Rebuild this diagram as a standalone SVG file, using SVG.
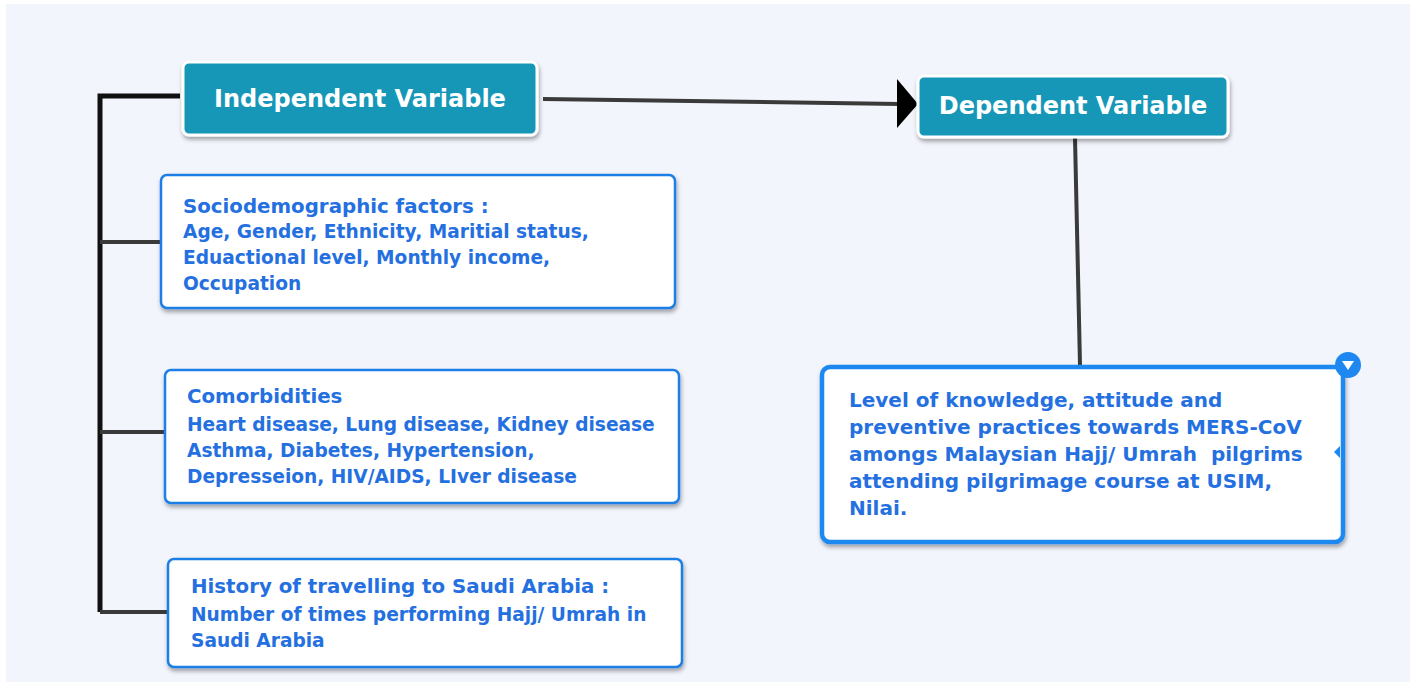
<svg xmlns="http://www.w3.org/2000/svg" width="1415" height="686" viewBox="0 0 1415 686">
<defs>
<style>
.head{fill:#1597b8;stroke:#ffffff;stroke-width:3}
.headtxt{font-family:"DejaVu Sans",Verdana,sans-serif;font-weight:bold;fill:#ffffff;font-size:24px;text-anchor:middle}
.box{fill:#ffffff;stroke:#1f7fe6;stroke-width:2.5}
.t{font-family:"DejaVu Sans",Verdana,sans-serif;font-weight:bold;fill:#2470e0;font-size:19.8px}
.b{font-family:"DejaVu Sans",Verdana,sans-serif;font-weight:bold;fill:#2470e0;font-size:18.6px}
.c{font-family:"DejaVu Sans",Verdana,sans-serif;font-weight:bold;fill:#2470e0;font-size:20px;white-space:pre}
.ln{stroke:#3a3a3a;stroke-width:4;fill:none}
</style>
<filter id="sh" x="-10%" y="-10%" width="120%" height="130%">
<feDropShadow dx="1" dy="3" stdDeviation="2" flood-color="#000" flood-opacity="0.35"/>
</filter>
</defs>
<rect x="0" y="0" width="1415" height="686" fill="#ffffff"/>
<rect x="6" y="4" width="1404" height="678" fill="#f3f5fd"/>

<g id="connectors">
<polyline points="180,96 100,96 100,612" fill="none" stroke="#111" stroke-width="5"/>
<line class="ln" x1="100" y1="242" x2="161" y2="242"/>
<line class="ln" x1="100" y1="432" x2="165" y2="432"/>
<line class="ln" x1="100" y1="612" x2="168" y2="612"/>
<line class="ln" x1="543" y1="99" x2="900" y2="104"/>
<polygon points="897,79 918,104 897,128" fill="#000"/>
<line class="ln" x1="1075" y1="138" x2="1080" y2="365"/>
</g>

<g id="independent">
<rect class="head" x="183" y="62" width="354" height="73" rx="6" filter="url(#sh)"/>
<text class="headtxt" x="360" y="107">Independent Variable</text>
</g>

<g id="dependent">
<rect class="head" x="918" y="76" width="310" height="61" rx="6" filter="url(#sh)"/>
<text class="headtxt" x="1073" y="114">Dependent Variable</text>
</g>

<g id="socio">
<rect class="box" x="161" y="175" width="514" height="133" rx="6" filter="url(#sh)"/>
<text class="t" x="183" y="213">Sociodemographic factors :</text>
<text class="b" x="183" y="238">Age, Gender, Ethnicity, Maritial status,</text>
<text class="b" x="183" y="264">Eduactional level, Monthly income,</text>
<text class="b" x="183" y="290">Occupation</text>
</g>

<g id="comorb">
<rect class="box" x="165" y="370" width="514" height="133" rx="6" filter="url(#sh)"/>
<text class="t" x="187" y="403">Comorbidities</text>
<text class="b" x="187" y="431">Heart disease, Lung disease, Kidney disease</text>
<text class="b" x="187" y="457">Asthma, Diabetes, Hypertension,</text>
<text class="b" x="187" y="483">Depresseion, HIV/AIDS, LIver disease</text>
</g>

<g id="history">
<rect class="box" x="168" y="559" width="514" height="108" rx="6" filter="url(#sh)"/>
<text class="t" x="191" y="593">History of travelling to Saudi Arabia :</text>
<text class="b" x="191" y="621">Number of times performing Hajj/ Umrah in</text>
<text class="b" x="191" y="647">Saudi Arabia</text>
</g>

<g id="outcome">
<rect x="822" y="367" width="521" height="175" rx="8" fill="#ffffff" stroke="#1e88f0" stroke-width="4.5" filter="url(#sh)"/>
<text class="c" x="849" y="407">Level of knowledge, attitude and</text>
<text class="c" x="849" y="434">preventive practices towards MERS-CoV</text>
<text class="c" x="849" y="461">amongs Malaysian Hajj/ Umrah  pilgrims</text>
<text class="c" x="849" y="488">attending pilgrimage course at USIM,</text>
<text class="c" x="849" y="515">Nilai.</text>
<circle cx="1348" cy="365" r="13" fill="#1e88f0"/>
<polygon points="1342,361 1354,361 1348,370" fill="#ffffff"/>
<polygon points="1334,452 1340,446 1340,458" fill="#1e88f0"/>
</g>
</svg>
